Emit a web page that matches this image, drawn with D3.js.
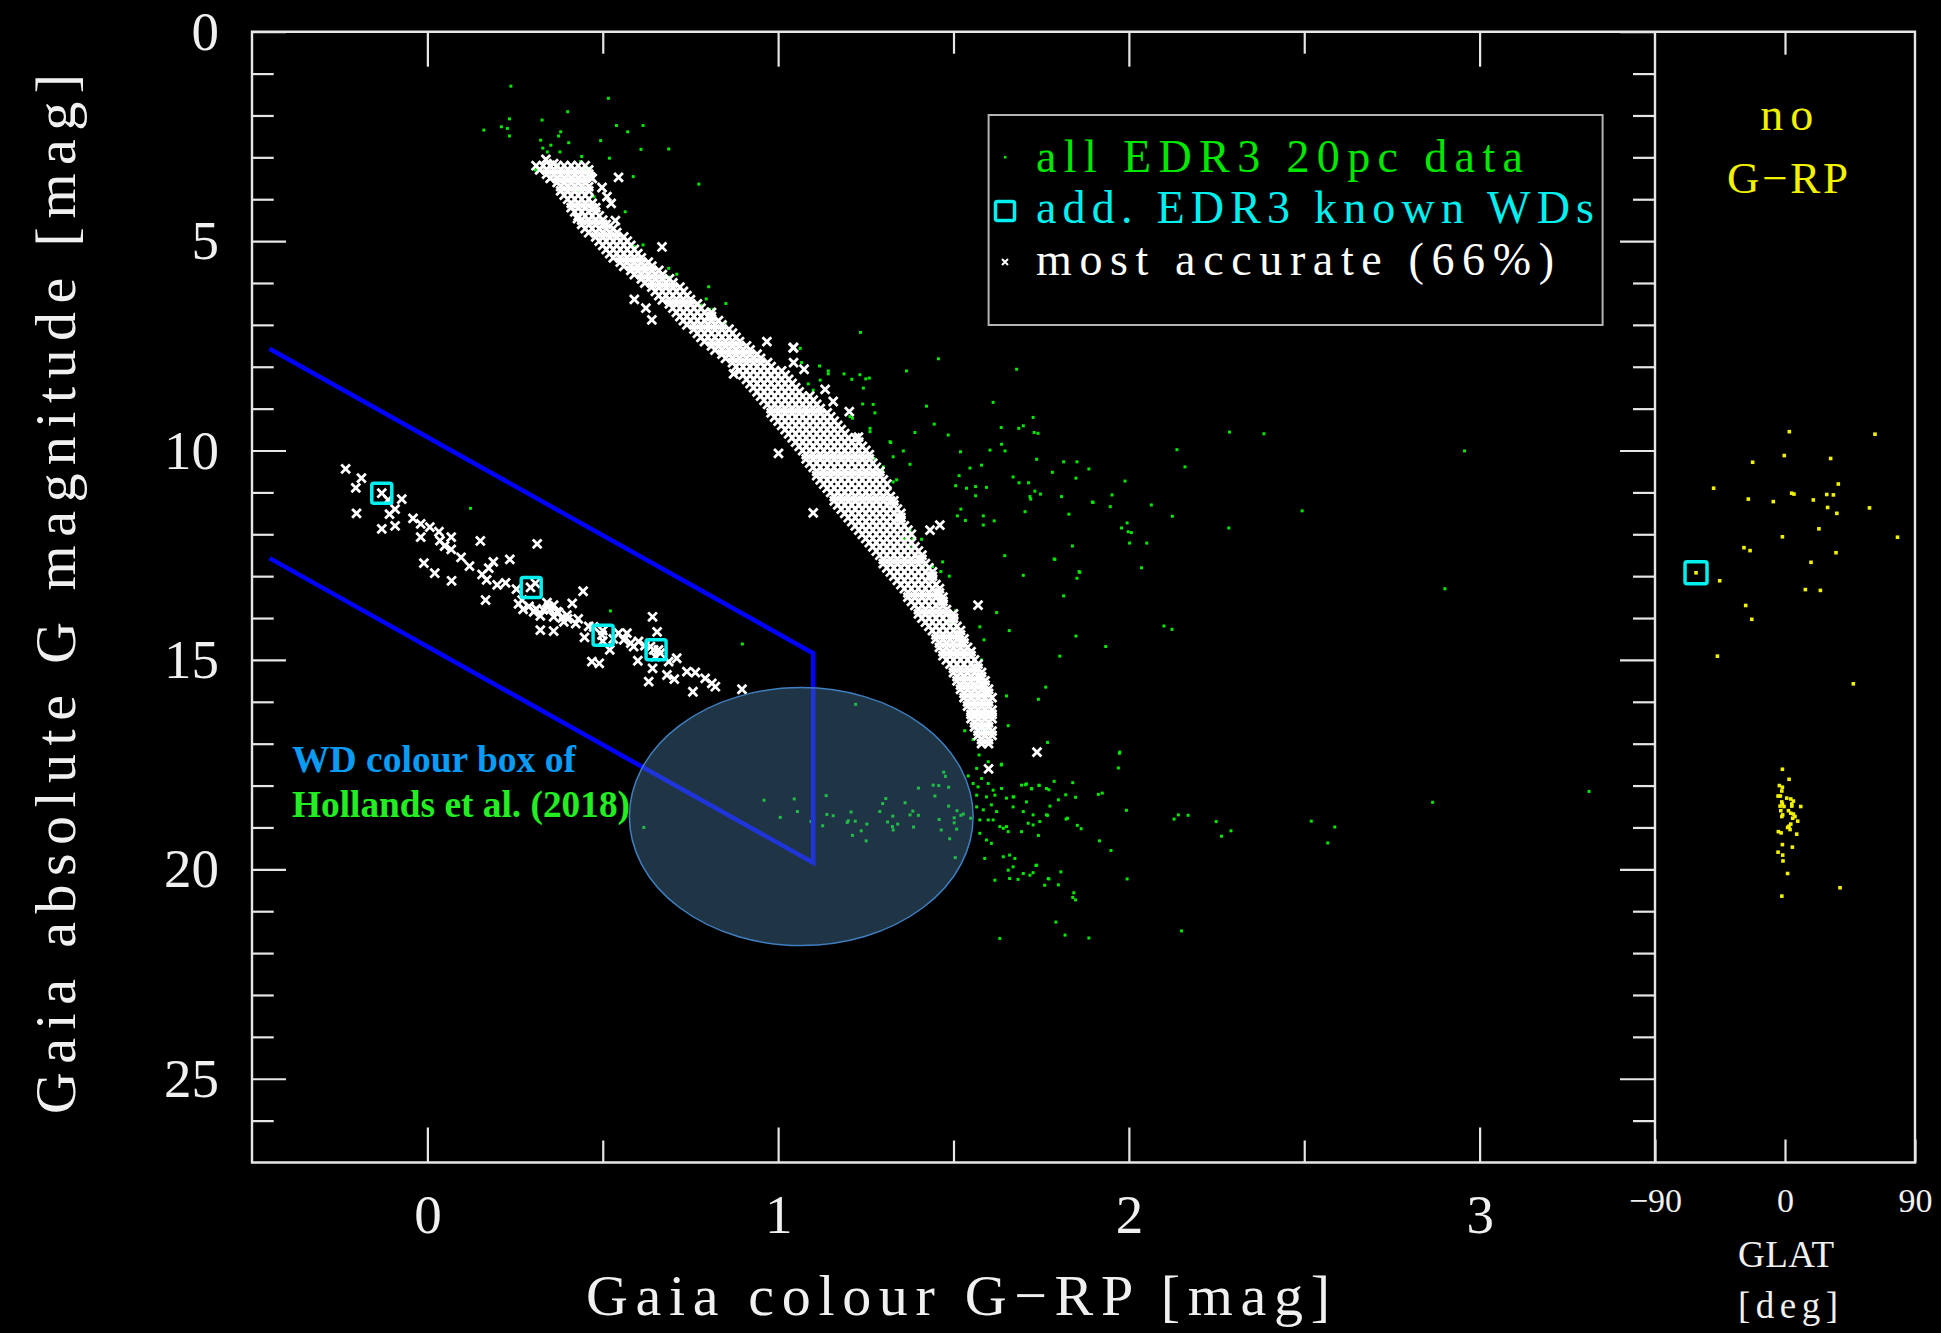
<!DOCTYPE html>
<html><head><meta charset="utf-8">
<script src="https://cdn.jsdelivr.net/npm/d3@7"></script>
<style>html,body{margin:0;padding:0;background:#000;}svg{display:block;}</style>
</head><body><svg id="c" width="1941" height="1333"></svg>
<script>
// ---------- data ----------
const yMajor = [0,5,10,15,20,25];
const yMinor = [1,2,3,4,6,7,8,9,11,12,13,14,16,17,18,19,21,22,23,24,26];
const xMajor = [0,1,2,3];
const xMinor = [0.5,1.5,2.5];
const glatTicks = [-90,0,90];

// Hollands et al. (2018) WD colour box (open polygon)
const boxPts = [[-0.45,7.57],[1.10,14.84],[1.10,19.84],[-0.45,12.57]];
// highlight ellipse (data units): cx, cy, rx, ry
const ellipseData = [1.066,18.74,0.49,3.08];

// all EDR3 20pc data (green dots): [G-RP, M_G]
const greenPts = [
[0.238,1.30],[0.516,1.59],[0.40,1.91],[0.234,2.08],[0.211,2.27],[0.228,2.31],[0.234,2.49],[0.161,2.35],[0.327,2.11],[0.539,2.24],[0.615,2.24],[0.571,2.39],[0.38,2.39],[0.374,2.49],[0.403,2.65],[0.323,2.59],[0.329,2.78],[0.352,2.71],[0.494,2.60],[0.609,2.81],[0.688,2.80],[0.342,2.87],[0.378,2.87],[0.519,3.02],[0.44,2.98],[0.437,3.10],[0.308,3.30],[0.374,3.18],[0.45,3.26],[0.463,3.26],[0.587,3.46],[0.774,3.64],[0.564,4.30],[0.431,3.82],[0.475,3.94],[0.539,4.50],[0.59,5.13],[0.615,5.09],[0.605,5.41],[0.688,5.65],[0.711,5.79],[0.688,5.86],[0.78,6.53],[0.802,6.09],[0.795,6.38],[0.805,6.63],[0.816,6.63],[0.851,6.49],[0.849,6.95],
[1.235,7.18],[1.457,7.81],[1.366,8.10],[1.613,8.85],[1.063,7.56],[1.067,7.90],[1.118,7.98],[1.143,8.10],[1.143,8.17],[1.188,8.17],[1.21,8.30],[1.233,8.19],[1.25,8.29],[1.26,8.27],[1.086,8.41],[1.12,8.32],[1.10,8.56],[1.243,8.51],[1.241,8.89],[1.271,8.90],[1.276,9.10],[1.262,9.47],[1.262,9.55],[1.39,9.57],[1.423,8.94],[1.445,9.37],[1.485,9.63],[1.319,9.79],[1.68,8.06],[1.727,9.21],[1.636,9.45],[1.686,9.47],[1.699,9.41],[1.73,9.57],[1.741,9.59],[1.321,9.81],[1.357,10.01],[1.328,10.15],[1.52,10.03],[1.604,9.99],[1.637,9.85],[1.647,10.01],[1.737,10.21],[1.814,10.27],[1.852,10.27],[1.886,10.44],[1.782,10.52],[1.849,10.66],[1.376,10.33],[1.58,10.35],[1.547,10.42],[1.67,10.63],[1.687,10.77],[1.714,10.77],[1.516,10.60],[1.506,10.84],[1.537,10.90],[1.563,10.86],[1.563,11.08],[1.594,10.88],[1.732,10.97],[1.718,11.10],[1.72,11.16],[1.748,11.04],[1.808,11.10],[1.704,11.46],[1.521,11.40],[1.511,11.56],[1.534,11.67],[1.585,11.56],[1.585,11.78],[1.616,11.68],[1.829,11.52],[1.896,11.23],[1.646,12.51],[1.787,12.59],[1.839,12.28],[1.699,12.98],[1.814,13.47],[1.858,12.89],[1.852,13.05],[1.849,14.43],[1.623,13.87],[1.659,14.30],[1.803,14.91],[1.506,13.83],[1.587,14.52],[1.575,14.21],[1.58,15.00],[1.763,15.65],[1.742,15.94],[1.651,15.86],[1.656,16.57],[1.768,16.97],[1.49,14.11],[1.504,14.25],[1.414,12.76],[1.44,12.77],[1.469,12.66],[1.464,12.89],[1.488,13.00],[1.384,12.12],[1.409,12.12],[1.376,11.90],[1.362,12.12],[1.333,12.54],[1.328,10.75],[1.338,10.70],[1.298,10.48],[1.30,10.39],[1.262,10.19],[1.273,10.19],[1.205,9.19],[1.212,9.23],[1.338,11.60],[1.359,12.12],[1.384,12.31],[1.583,16.67],[1.594,16.75],[1.606,16.71],[1.532,16.69],[1.589,15.96],[1.585,15.80],
[2.287,9.56],[2.385,9.60],[2.957,10.01],[2.137,9.98],[2.16,10.39],[1.989,10.73],[1.952,11.06],[1.898,11.24],[1.947,11.34],[2.064,11.30],[2.124,11.57],[2.494,11.44],[2.285,11.85],[1.995,11.73],[1.979,11.85],[1.998,11.94],[2.007,11.96],[2.002,12.21],[2.051,12.21],[1.789,12.60],[2.036,12.80],[1.86,12.91],[2.901,13.30],[1.934,14.68],[2.10,14.19],[2.123,14.27],[1.973,17.23],[1.97,17.58],[1.636,17.51],[3.312,18.14],[2.866,18.40],[1.974,17.20],
[0.617,19.0],[0.96,18.35],[1.046,18.32],[1.055,18.62],[1.006,18.76],[1.094,18.86],[1.137,18.24],[1.139,18.69],[1.157,18.72],[1.127,18.96],[1.208,18.63],[1.20,18.84],[1.22,18.85],[1.197,18.88],[1.212,19.19],[1.237,19.08],[1.251,19.32],[1.253,18.92],[1.221,16.06],[1.29,18.62],[1.298,18.43],[1.307,18.31],[1.312,18.87],[1.327,18.73],[1.326,18.98],[1.328,19.06],[1.341,18.92],[1.362,18.41],[1.384,18.61],[1.376,18.70],[1.40,18.71],[1.386,18.99],[1.40,18.06],[1.442,17.99],[1.458,18.00],[1.447,18.25],[1.472,17.68],[1.477,17.78],[1.486,18.04],[1.459,18.81],[1.465,19.06],[1.486,18.49],[1.489,19.27],[1.502,18.77],[1.502,18.89],[1.509,19.04],[1.51,18.60],[1.521,18.71],[1.528,18.68],[1.505,19.72],[1.549,18.78],[1.542,17.77],
[1.556,16.90],[1.599,16.71],[1.594,16.95],[1.573,17.27],[1.599,17.43],[1.637,17.49],[1.566,17.59],[1.58,17.83],[1.556,17.95],[1.57,18.03],[1.599,17.95],[1.613,18.11],[1.637,18.07],[1.566,18.23],[1.594,18.27],[1.618,18.23],[1.651,18.30],[1.67,18.27],[1.694,17.99],[1.708,17.96],[1.722,18.07],[1.744,17.99],[1.765,18.07],[1.566,18.51],[1.585,18.58],[1.608,18.46],[1.623,18.62],[1.67,18.51],[1.708,18.39],[1.699,18.62],[1.727,18.70],[1.575,18.82],[1.599,18.82],[1.613,18.82],[1.632,18.98],[1.651,18.98],[1.575,19.14],[1.594,19.30],[1.608,19.38],[1.642,19.02],[1.656,19.10],[1.694,19.10],[1.713,18.90],[1.727,18.94],[1.746,18.86],[1.765,18.70],[1.589,19.74],[1.618,20.26],[1.642,19.70],[1.66,19.66],[1.675,19.74],[1.656,20.02],[1.67,19.94],[1.66,20.22],[1.684,20.24],[1.699,20.10],[1.718,20.14],[1.727,20.08],[1.737,19.90],[1.76,20.38],[1.77,20.22],[1.632,21.65],[1.792,21.26],[1.84,20.67],[1.818,21.57],[1.886,21.64],[2.15,21.47],
[1.787,17.90],[1.84,17.93],[1.705,17.98],[1.744,18.00],[1.723,18.08],[1.772,18.10],[1.913,18.21],[1.924,18.18],[1.848,18.28],[1.82,18.22],[1.672,18.27],[1.993,18.59],[1.799,18.34],[1.775,18.49],[1.768,18.71],[2.141,18.70],[2.169,18.71],[2.129,18.80],[2.249,18.86],[2.264,19.21],[2.291,19.08],[2.52,18.85],[2.587,18.99],[2.567,19.37],[1.821,18.80],[1.825,18.78],[1.853,18.95],[1.864,19.03],[1.916,19.32],[1.949,19.55],[1.995,20.23],[1.742,19.19],[1.735,19.91],[1.806,20.06],[1.772,20.23],[1.799,20.37],[1.843,20.56],[1.848,20.73],
[0.123,11.38],[0.522,13.83],[0.898,14.62]
];

// most accurate (66%): main-sequence band, rows of [M_G, [G-RP values]]
const msRows = [
[3.2,[0.31,0.33,0.35,0.37,0.39,0.41,0.43,0.45]],
[3.3,[0.32,0.34,0.36,0.38,0.40,0.42,0.44,0.46]],
[3.4,[0.34,0.36,0.38,0.40,0.42,0.44,0.46]],
[3.5,[0.35,0.37,0.39,0.41,0.43,0.45,0.47]],
[3.6,[0.37,0.39,0.41,0.43,0.45]],
[3.7,[0.38,0.40,0.42,0.44,0.46]],
[3.8,[0.38,0.40,0.42,0.44,0.46]],
[3.9,[0.39,0.41,0.43,0.45]],
[4.0,[0.40,0.42,0.44,0.46]],
[4.1,[0.41,0.43,0.45,0.47]],
[4.2,[0.41,0.43,0.45,0.47,0.48]],
[4.3,[0.42,0.44,0.46,0.48]],
[4.4,[0.43,0.45,0.47,0.49]],
[4.5,[0.44,0.46,0.48,0.50]],
[4.6,[0.44,0.46,0.48,0.50,0.51]],
[4.7,[0.45,0.47,0.49,0.51,0.53]],
[4.8,[0.46,0.48,0.50,0.52,0.54]],
[4.9,[0.48,0.50,0.52,0.54,0.56]],
[5.0,[0.49,0.51,0.53,0.55,0.57]],
[5.1,[0.50,0.52,0.54,0.56,0.58]],
[5.2,[0.51,0.53,0.55,0.57,0.59]],
[5.3,[0.52,0.54,0.56,0.58,0.60]],
[5.4,[0.53,0.55,0.57,0.59,0.61]],
[5.5,[0.55,0.57,0.59,0.61,0.63]],
[5.6,[0.56,0.58,0.60,0.62,0.64]],
[5.7,[0.58,0.60,0.62,0.64,0.66]],
[5.8,[0.59,0.61,0.63,0.65,0.67]],
[5.9,[0.61,0.63,0.65,0.67,0.69]],
[6.0,[0.62,0.64,0.66,0.68,0.70]],
[6.1,[0.64,0.66,0.68,0.70,0.72]],
[6.2,[0.65,0.67,0.69,0.71,0.73]],
[6.3,[0.66,0.68,0.70,0.72,0.74]],
[6.4,[0.67,0.69,0.71,0.73,0.75]],
[6.5,[0.69,0.71,0.73,0.75,0.77]],
[6.6,[0.70,0.72,0.74,0.76,0.78]],
[6.7,[0.71,0.73,0.75,0.77,0.79,0.81]],
[6.8,[0.72,0.74,0.76,0.78,0.80,0.81]],
[6.9,[0.73,0.75,0.77,0.79,0.81,0.83]],
[7.0,[0.74,0.76,0.78,0.80,0.82,0.84]],
[7.1,[0.76,0.78,0.80,0.82,0.84,0.86]],
[7.2,[0.77,0.79,0.81,0.83,0.85,0.87]],
[7.3,[0.78,0.80,0.82,0.84,0.86,0.88]],
[7.4,[0.79,0.81,0.83,0.85,0.87,0.89]],
[7.5,[0.81,0.83,0.85,0.87,0.89,0.91]],
[7.6,[0.82,0.84,0.86,0.88,0.90,0.92]],
[7.7,[0.84,0.86,0.88,0.90,0.92,0.94]],
[7.8,[0.85,0.87,0.89,0.91,0.93,0.95]],
[7.9,[0.87,0.89,0.91,0.93,0.95,0.97]],
[8.0,[0.88,0.90,0.92,0.94,0.96,0.98]],
[8.1,[0.89,0.91,0.93,0.95,0.97,0.99,1.01]],
[8.2,[0.90,0.92,0.94,0.96,0.98,1.00,1.02]],
[8.3,[0.91,0.93,0.95,0.97,0.99,1.01,1.03]],
[8.4,[0.92,0.94,0.96,0.98,1.00,1.02,1.04]],
[8.5,[0.93,0.95,0.97,0.99,1.01,1.03,1.05]],
[8.6,[0.94,0.96,0.98,1.00,1.02,1.04,1.06]],
[8.7,[0.95,0.97,0.99,1.01,1.03,1.05,1.07,1.09]],
[8.8,[0.96,0.98,1.00,1.02,1.04,1.06,1.08,1.10]],
[8.9,[0.97,0.99,1.01,1.03,1.05,1.07,1.09,1.11]],
[9.0,[0.98,1.00,1.02,1.04,1.06,1.08,1.10,1.12]],
[9.1,[0.98,1.00,1.02,1.04,1.06,1.08,1.10,1.12,1.14]],
[9.2,[0.99,1.01,1.03,1.05,1.07,1.09,1.11,1.13,1.15]],
[9.3,[1.00,1.02,1.04,1.06,1.08,1.10,1.12,1.14,1.16]],
[9.4,[1.01,1.03,1.05,1.07,1.09,1.11,1.13,1.15,1.17]],
[9.5,[1.02,1.04,1.06,1.08,1.10,1.12,1.14,1.16,1.18]],
[9.6,[1.03,1.05,1.07,1.09,1.11,1.13,1.15,1.17,1.19]],
[9.7,[1.04,1.06,1.08,1.10,1.12,1.14,1.16,1.18,1.20,1.22]],
[9.8,[1.05,1.07,1.09,1.11,1.13,1.15,1.17,1.19,1.21,1.23]],
[9.9,[1.06,1.08,1.10,1.12,1.14,1.16,1.18,1.20,1.22,1.24]],
[10.0,[1.07,1.09,1.11,1.13,1.15,1.17,1.19,1.21,1.23,1.25]],
[10.1,[1.08,1.10,1.12,1.14,1.16,1.18,1.20,1.22,1.24,1.26]],
[10.2,[1.08,1.10,1.12,1.14,1.16,1.18,1.20,1.22,1.24,1.26]],
[10.3,[1.09,1.11,1.13,1.15,1.17,1.19,1.21,1.23,1.25,1.27]],
[10.4,[1.10,1.12,1.14,1.16,1.18,1.20,1.22,1.24,1.26,1.28]],
[10.5,[1.11,1.13,1.15,1.17,1.19,1.21,1.23,1.25,1.27,1.29]],
[10.6,[1.11,1.13,1.15,1.17,1.19,1.21,1.23,1.25,1.27,1.29]],
[10.7,[1.12,1.14,1.16,1.18,1.20,1.22,1.24,1.26,1.28,1.30]],
[10.8,[1.13,1.15,1.17,1.19,1.21,1.23,1.25,1.27,1.29,1.31]],
[10.9,[1.14,1.16,1.18,1.20,1.22,1.24,1.26,1.28,1.30]],
[11.0,[1.15,1.17,1.19,1.21,1.23,1.25,1.27,1.29,1.31]],
[11.1,[1.16,1.18,1.20,1.22,1.24,1.26,1.28,1.30,1.32]],
[11.2,[1.16,1.18,1.20,1.22,1.24,1.26,1.28,1.30,1.32,1.33]],
[11.3,[1.17,1.19,1.21,1.23,1.25,1.27,1.29,1.31,1.33]],
[11.4,[1.18,1.20,1.22,1.24,1.26,1.28,1.30,1.32,1.34]],
[11.5,[1.19,1.21,1.23,1.25,1.27,1.29,1.31,1.33,1.35]],
[11.6,[1.20,1.22,1.24,1.26,1.28,1.30,1.32,1.34,1.35]],
[11.7,[1.21,1.23,1.25,1.27,1.29,1.31,1.33,1.35]],
[11.8,[1.22,1.24,1.26,1.28,1.30,1.32,1.34,1.36]],
[11.9,[1.23,1.25,1.27,1.29,1.31,1.33,1.35,1.37]],
[12.0,[1.24,1.26,1.28,1.30,1.32,1.34,1.36,1.38]],
[12.1,[1.25,1.27,1.29,1.31,1.33,1.35,1.37]],
[12.2,[1.26,1.28,1.30,1.32,1.34,1.36,1.38]],
[12.3,[1.27,1.29,1.31,1.33,1.35,1.37,1.39]],
[12.4,[1.28,1.30,1.32,1.34,1.36,1.38,1.40]],
[12.5,[1.29,1.31,1.33,1.35,1.37,1.39,1.41]],
[12.6,[1.30,1.32,1.34,1.36,1.38,1.40,1.41]],
[12.7,[1.30,1.32,1.34,1.36,1.38,1.40,1.42]],
[12.8,[1.31,1.33,1.35,1.37,1.39,1.41,1.43]],
[12.9,[1.32,1.34,1.36,1.38,1.40,1.42,1.44]],
[13.0,[1.33,1.35,1.37,1.39,1.41,1.43,1.44]],
[13.1,[1.34,1.36,1.38,1.40,1.42,1.44]],
[13.2,[1.35,1.37,1.39,1.41,1.43,1.45]],
[13.3,[1.36,1.38,1.40,1.42,1.44,1.46]],
[13.4,[1.37,1.39,1.41,1.43,1.45,1.46]],
[13.5,[1.37,1.39,1.41,1.43,1.45,1.47]],
[13.6,[1.38,1.40,1.42,1.44,1.46,1.47]],
[13.7,[1.39,1.41,1.43,1.45,1.47]],
[13.8,[1.40,1.42,1.44,1.46,1.48]],
[13.9,[1.40,1.42,1.44,1.46,1.48,1.50]],
[14.0,[1.41,1.43,1.45,1.47,1.49,1.50]],
[14.1,[1.42,1.44,1.46,1.48,1.50]],
[14.2,[1.43,1.45,1.47,1.49,1.51]],
[14.3,[1.44,1.46,1.48,1.50,1.52]],
[14.4,[1.45,1.47,1.49,1.51,1.52]],
[14.5,[1.45,1.47,1.49,1.51,1.53]],
[14.6,[1.46,1.48,1.50,1.52,1.53]],
[14.7,[1.46,1.48,1.50,1.52,1.54]],
[14.8,[1.47,1.49,1.51,1.53,1.55]],
[14.9,[1.47,1.49,1.51,1.53,1.55]],
[15.0,[1.48,1.50,1.52,1.54,1.56]],
[15.1,[1.49,1.51,1.53,1.55,1.57]],
[15.2,[1.50,1.52,1.54,1.56,1.57]],
[15.3,[1.50,1.52,1.54,1.56,1.58]],
[15.4,[1.51,1.53,1.55,1.57,1.58]],
[15.5,[1.51,1.53,1.55,1.57,1.59]],
[15.6,[1.52,1.54,1.56,1.58,1.59]],
[15.7,[1.52,1.54,1.56,1.58,1.60]],
[15.8,[1.53,1.55,1.57,1.59,1.60]],
[15.9,[1.53,1.55,1.57,1.59,1.61]],
[16.0,[1.54,1.56,1.58,1.60]],
[16.1,[1.54,1.56,1.58,1.60]],
[16.2,[1.55,1.57,1.59,1.61]],
[16.3,[1.55,1.57,1.59,1.61]],
[16.4,[1.55,1.57,1.59,1.61]],
[16.5,[1.56,1.58,1.60]],
[16.6,[1.56,1.58,1.60]],
[16.7,[1.57,1.59,1.61]],
[16.8,[1.57,1.59,1.61]],
[16.9,[1.58,1.60]],
[17.0,[1.58,1.60]],
[17.6,[1.60]]
];
const msOutliers = [[0.338,3.05],[0.545,3.48],[0.669,5.14],[0.59,6.39],[0.623,6.60],[0.64,6.88],[0.428,4.46],[0.873,8.17],[1.044,7.54],[1.044,7.90],[1.074,8.06],[1.134,8.54],[1.157,8.83],[1.203,9.07],[1.229,9.68],[0.968,7.40],[1.043,7.55],[1.001,10.07],[1.10,11.49],[1.433,11.90],[1.461,11.78],[1.57,13.69],[1.738,17.20],[0.36,3.15],[0.465,3.46],[0.498,3.72],[0.512,3.94],[0.524,4.10],[0.536,4.51]];
const wdCrosses = [[-0.233,10.44],[-0.188,10.66],[-0.204,10.89],[-0.13,11.02],[-0.112,11.18],[-0.073,11.16],[-0.092,11.40],[-0.202,11.50],[-0.108,11.52],[-0.13,11.87],[-0.092,11.80],[-0.041,11.62],[-0.019,11.75],[0.007,11.83],[0.033,11.94],[-0.019,12.07],[0.068,12.07],[0.036,12.15],[0.049,12.28],[0.068,12.36],[0.151,12.16],[0.096,12.55],[0.12,12.76],[-0.01,12.69],[0.021,12.93],[0.069,13.11],[0.156,12.96],[0.188,12.66],[0.175,12.81],[0.169,13.09],[0.199,13.21],[0.166,13.57],[0.223,13.16],[0.235,12.60],[0.313,12.23],[0.254,13.31],[0.27,13.57],[0.294,13.27],[0.308,13.17],[0.273,13.79],[0.322,13.95],[0.341,13.63],[0.36,13.69],[0.322,14.29],[0.374,13.87],[0.398,13.93],[0.413,13.65],[0.444,13.36],[0.389,14.09],[0.423,14.13],[0.36,14.31],[0.448,14.46],[0.474,14.21],[0.469,15.04],[0.49,15.08],[0.498,14.41],[0.52,14.76],[0.545,14.36],[0.569,14.36],[0.588,14.68],[0.602,14.56],[0.60,15.02],[0.642,13.97],[0.655,14.33],[0.645,14.76],[0.664,14.84],[0.642,15.20],[0.631,15.52],[0.688,15.04],[0.711,14.96],[0.683,15.36],[0.704,15.46],[0.74,15.28],[0.764,15.30],[0.757,15.76],[0.792,15.44],[0.811,15.56],[0.821,15.64],[0.897,15.70],[0.346,13.73],[0.37,13.85],[0.384,14.0],[0.303,13.85],[0.36,13.97],[0.636,14.68],[0.659,14.76],[0.65,14.92],[0.26,13.66],[0.29,13.72],[0.31,13.78],[0.33,13.80],[0.35,13.80],[0.40,14.02],[0.43,14.02],[0.46,14.20],[0.50,14.30],[0.53,14.50],[0.56,14.52],[0.58,14.60],[0.62,14.66],[0.50,14.55]];
// additional EDR3 known WDs (cyan squares)
const knownWDs = [[-0.13,11.02],[0.296,13.27],[0.501,14.41],[0.652,14.76]];
const knownWDsNoRP = [[-61.6,12.92]]; // [GLAT, M_G]
// no G-RP: [GLAT deg, M_G]
const noRP = [[3.0,9.55],[62.3,9.61],[-0.5,10.12],[-22.4,10.28],[31.6,10.19],[-49.4,10.90],[36.9,10.80],[4.6,11.02],[6.2,11.04],[28.9,11.05],[33.5,11.06],[-25.4,11.16],[-8.1,11.22],[19.6,11.18],[29.5,11.36],[35.9,11.50],[58.5,11.37],[-1.8,12.06],[23.5,11.87],[77.9,12.07],[-28.4,12.32],[-24.2,12.39],[35.3,12.44],[18.0,12.67],[-61.6,12.92],[-45.2,13.11],[14.1,13.32],[24.5,13.34],[-27.2,13.70],[-23.0,14.03],[-46.8,14.91],[47.3,15.57],[-1.8,17.61],[2.8,17.85],[-3.9,18.0],[-1.8,18.04],[-2.2,18.13],[-4.8,18.25],[-3.2,18.25],[1.2,18.30],[4.0,18.32],[5.8,18.37],[4.7,18.44],[4.7,18.49],[-2.2,18.39],[-1.8,18.44],[-3.4,18.49],[-0.7,18.50],[10.9,18.50],[-2.9,18.60],[2.4,18.60],[-1.6,18.70],[-2.2,18.74],[4.0,18.66],[5.8,18.68],[6.9,18.74],[5.3,18.78],[8.8,18.85],[4.0,18.92],[2.8,18.97],[1.8,19.0],[3.5,19.05],[-4.6,19.10],[-2.7,19.13],[8.1,19.16],[-1.8,19.41],[5.1,19.47],[-4.8,19.59],[-1.6,19.66],[-1.4,19.80],[1.8,20.10],[38.1,20.44],[-2.2,20.64]];

const legendLabels = ["all EDR3 20pc data","add. EDR3 known WDs","most accurate (66%)"];

// ---------- drawing ----------
const svg = d3.select("#c");
svg.append("rect").attr("width",1941).attr("height",1333).attr("fill","#000");
const x = d3.scaleLinear().domain([-0.5,3.5]).range([252,1655]);
const y = d3.scaleLinear().domain([0,27]).range([31.7,1162.5]);
const gl = d3.scaleLinear().domain([-90,90]).range([1655,1915]);
const AX = "#e6e6e6";
const SERIF = "'Liberation Serif','DejaVu Serif',serif";
const TXT = "#f0f0f0";

// green dots
svg.append("g").selectAll("rect").data(greenPts).join("rect")
  .attr("x",d=>x(d[0])-1.5).attr("y",d=>y(d[1])-1.5)
  .attr("width",3).attr("height",3).attr("fill","#00e800");

// white crosses
const crossPts = [];
msRows.forEach(([yy,xs])=>xs.forEach(xx=>crossPts.push([xx,yy])));
msOutliers.forEach(p=>crossPts.push(p));
wdCrosses.forEach(p=>crossPts.push(p));
const crossD = "M-4.4,-4.4L4.4,4.4M-4.4,4.4L4.4,-4.4";
svg.append("g").selectAll("path").data(crossPts).join("path")
  .attr("d",crossD).attr("transform",d=>`translate(${x(d[0])},${y(d[1])})`)
  .attr("stroke","#fff").attr("stroke-width",2.8).attr("fill","none");

// cyan squares
svg.append("g").selectAll("rect").data(knownWDs).join("rect")
  .attr("x",d=>x(d[0])-10).attr("y",d=>y(d[1])-10).attr("width",20).attr("height",20).attr("rx",2)
  .attr("fill","none").attr("stroke","#00f0f0").attr("stroke-width",3.5);

// right panel: yellow
svg.append("g").selectAll("rect").data(noRP).join("rect")
  .attr("x",d=>gl(d[0])-1.8).attr("y",d=>y(d[1])-1.8).attr("width",3.6).attr("height",3.6).attr("fill","#f2f200");
svg.append("g").selectAll("rect").data(knownWDsNoRP).join("rect")
  .attr("x",d=>gl(d[0])-11).attr("y",d=>y(d[1])-11).attr("width",22).attr("height",22).attr("rx",2)
  .attr("fill","none").attr("stroke","#00f0f0").attr("stroke-width",3.5);

// blue box
svg.append("path").attr("d",d3.line().x(d=>x(d[0])).y(d=>y(d[1]))(boxPts))
  .attr("fill","none").attr("stroke","#0000ff").attr("stroke-width",4.5).attr("stroke-linejoin","miter");

// ellipse overlay
svg.append("ellipse")
  .attr("cx",x(ellipseData[0])).attr("cy",y(ellipseData[1]))
  .attr("rx",x(ellipseData[0]+ellipseData[2])-x(ellipseData[0]))
  .attr("ry",y(ellipseData[1]+ellipseData[3])-y(ellipseData[1]))
  .attr("fill","#4a7fa6").attr("fill-opacity",0.42)
  .attr("stroke","#3f7fbf").attr("stroke-width",1.5);

// annotation
svg.append("text").attr("x",292).attr("y",771.7).text("WD colour box of")
  .attr("font-family",SERIF).attr("font-weight","bold").attr("font-size",37)
  .attr("fill","#0a9bf5").attr("textLength",284).attr("lengthAdjust","spacingAndGlyphs");
svg.append("text").attr("x",292).attr("y",816.7).text("Hollands et al. (2018)")
  .attr("font-family",SERIF).attr("font-weight","bold").attr("font-size",37)
  .attr("fill","#22ee22").attr("textLength",338).attr("lengthAdjust","spacingAndGlyphs");

// axes
function styleAxis(sel, fs){
  sel.select(".domain").remove();
  sel.selectAll("line").attr("stroke",AX).attr("stroke-width",2.2);
  sel.selectAll("text").attr("fill",TXT).attr("font-family",SERIF).attr("font-size",fs||55);
}
const fmtInt = d3.format("d");
svg.append("g").attr("transform","translate(252,0)")
  .call(d3.axisLeft(y).tickValues(yMajor).tickSize(-34).tickPadding(33).tickFormat(fmtInt)).call(styleAxis);
svg.append("g").attr("transform","translate(252,0)")
  .call(d3.axisLeft(y).tickValues(yMinor).tickSize(-21.7).tickFormat("")).call(styleAxis);
svg.append("g").attr("transform","translate(1655,0)")
  .call(d3.axisLeft(y).tickValues(yMajor).tickSize(35).tickFormat("")).call(styleAxis);
svg.append("g").attr("transform","translate(1655,0)")
  .call(d3.axisLeft(y).tickValues(yMinor).tickSize(22).tickFormat("")).call(styleAxis);
svg.append("g").attr("transform","translate(0,1162.5)")
  .call(d3.axisBottom(x).tickValues(xMajor).tickSize(-35).tickPadding(31).tickFormat(fmtInt)).call(styleAxis);
svg.append("g").attr("transform","translate(0,1162.5)")
  .call(d3.axisBottom(x).tickValues(xMinor).tickSize(-22).tickFormat("")).call(styleAxis);
svg.append("g").attr("transform","translate(0,31.7)")
  .call(d3.axisTop(x).tickValues(xMajor).tickSize(-35).tickFormat("")).call(styleAxis);
svg.append("g").attr("transform","translate(0,31.7)")
  .call(d3.axisTop(x).tickValues(xMinor).tickSize(-22).tickFormat("")).call(styleAxis);
svg.append("g").attr("transform","translate(0,1162.5)")
  .call(d3.axisBottom(gl).tickValues(glatTicks).tickSize(-23).tickPadding(25)
    .tickFormat(d=>d<0?"\u2212"+Math.abs(d):String(d))).call(s=>styleAxis(s,34));
svg.append("g").attr("transform","translate(0,31.7)")
  .call(d3.axisTop(gl).tickValues([0]).tickSize(-23).tickFormat("")).call(styleAxis);

// frame
svg.append("path").attr("d","M252,31.7H1915V1162.5H252Z M1655,31.7V1162.5")
  .attr("fill","none").attr("stroke",AX).attr("stroke-width",2.4);

// axis titles
svg.append("text").attr("transform","translate(75,594) rotate(-90)").attr("text-anchor","middle")
  .text("Gaia absolute G magnitude [mag]").attr("font-family",SERIF).attr("font-size",58)
  .attr("fill",TXT).attr("textLength",1040).attr("lengthAdjust","spacing");
svg.append("text").attr("x",586).attr("y",1315).text("Gaia colour G\u2212RP [mag]")
  .attr("font-family",SERIF).attr("font-size",58).attr("fill",TXT)
  .attr("textLength",744).attr("lengthAdjust","spacing");
svg.append("text").attr("x",1786).attr("y",1266.7).attr("text-anchor","middle").text("GLAT")
  .attr("font-family",SERIF).attr("font-size",37).attr("fill",TXT)
  .attr("textLength",96).attr("lengthAdjust","spacing");
svg.append("text").attr("x",1788).attr("y",1318).attr("text-anchor","middle").text("[deg]")
  .attr("font-family",SERIF).attr("font-size",37).attr("fill",TXT)
  .attr("textLength",100).attr("lengthAdjust","spacing");
svg.append("text").attr("x",1786.7).attr("y",130).attr("text-anchor","middle").text("no")
  .attr("font-family",SERIF).attr("font-size",46).attr("fill","#f2f200")
  .attr("textLength",53).attr("lengthAdjust","spacing");
svg.append("text").attr("x",1727).attr("y",193.3).text("G\u2212RP")
  .attr("font-family",SERIF).attr("font-size",45).attr("fill","#f2f200")
  .attr("textLength",121).attr("lengthAdjust","spacing");

// legend
const lg = svg.append("g");
lg.append("rect").attr("x",988.6).attr("y",115).attr("width",614).attr("height",210)
  .attr("fill","#000").attr("stroke","#b4b4b4").attr("stroke-width",2);
const legColors = ["#00e800","#00f0f0","#ffffff"];
const legBase = [171.7,223.3,275];
const legLen = [487,558,518];
lg.selectAll("text").data(legendLabels).join("text")
  .attr("x",1036).attr("y",(d,i)=>legBase[i]).text(d=>d)
  .attr("font-family",SERIF).attr("font-size",46).attr("fill",(d,i)=>legColors[i])
  .attr("textLength",(d,i)=>legLen[i]).attr("lengthAdjust","spacing");
lg.append("rect").attr("x",1004).attr("y",156).attr("width",2.5).attr("height",2.5).attr("fill","#00e800");
lg.append("rect").attr("x",995.5).attr("y",201.5).attr("width",19).attr("height",19).attr("rx",2)
  .attr("fill","none").attr("stroke","#00f0f0").attr("stroke-width",3.5);
lg.append("path").attr("d","M-3,-3L3,3M-3,3L3,-3").attr("transform","translate(1005,262)")
  .attr("stroke","#fff").attr("stroke-width",2);
</script></body></html>
